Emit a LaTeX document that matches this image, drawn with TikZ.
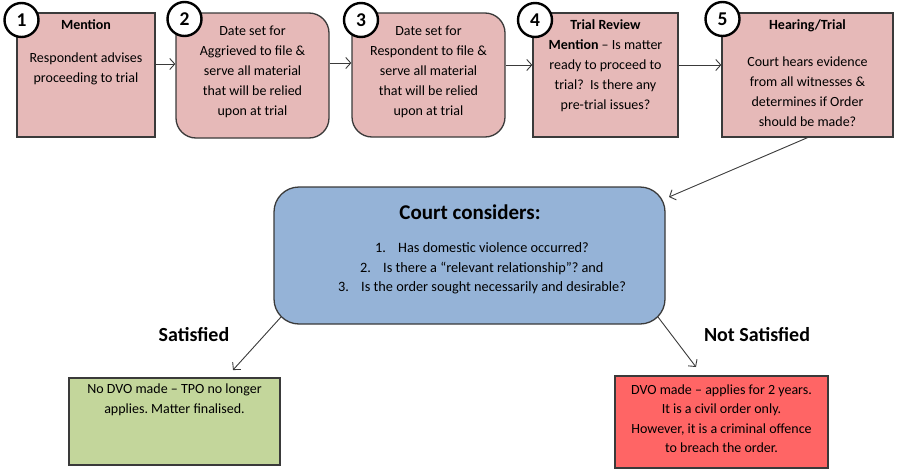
\documentclass[tikz,border=0pt]{standalone}
\usepackage{fontspec}
\setmainfont{Carlito}
\usetikzlibrary{arrows.meta}
\frenchspacing
\definecolor{pinkfill}{HTML}{E6B9B8}
\definecolor{bluefill}{HTML}{95B3D7}
\definecolor{greenfill}{HTML}{C3D69B}
\definecolor{redfill}{HTML}{FF6565}
\definecolor{edge}{HTML}{3A3A3A}
\tikzset{
  box/.style={draw=edge, line width=1.3pt, inner sep=0pt},
  pinkbox/.style={box, fill=pinkfill},
  numcirc/.style={circle, draw=black, line width=2.4pt, fill=white, minimum size=34pt, inner sep=0pt, font=\bfseries\fontsize{19.5}{19.5}\selectfont},
  txt/.style={align=center, inner sep=0pt, font=\fontsize{14}{20}\selectfont},
  conn/.style={draw=edge, line width=0.9pt, -{Straight Barb[length=5pt,width=11pt]}},
  lbl/.style={inner sep=0pt, font=\bfseries\fontsize{20}{20}\selectfont}
}
\begin{document}
\begin{tikzpicture}[x=1pt,y=-1pt]
\useasboundingbox (0,0) rectangle (900,474);
% top boxes
\node[pinkbox, minimum width=138pt, minimum height=124pt] (b1) at (86,75) {};
\node[pinkbox, rounded corners=20pt, minimum width=153pt, minimum height=125pt] (b2) at (252.5,75.5) {};
\node[pinkbox, rounded corners=20pt, minimum width=153pt, minimum height=124pt] (b3) at (428.5,75) {};
\node[pinkbox, minimum width=145pt, minimum height=124pt] (b4) at (605.5,75) {};
\node[pinkbox, minimum width=171pt, minimum height=124pt] (b5) at (807.5,75) {};
% texts
\node[txt] (t1a) at (86,25) {\bfseries Mention};
\node[txt] (t1b) at (86,68.5) {Respondent advises\\proceeding to trial};
\node[txt] (t2) at (252.5,72) {Date set for\\Aggrieved to file \&\\serve all material\\that will be relied\\upon at trial};
\node[txt] (t3) at (428.5,72) {Date set for\\Respondent to file \&\\serve all material\\that will be relied\\upon at trial};
\node[txt] (t4) at (605.5,66) {\textbf{Trial Review}\\\textbf{Mention} -- Is matter\\ready to proceed to\\trial?~~Is there any\\pre-trial issues?};
\node[txt] (t5a) at (807.5,26) {\bfseries Hearing/Trial};
\node[txt] (t5b) at (807.5,92) {Court hears evidence\\from all witnesses \&\\determines if Order\\should be made?};
% number circles
\node[numcirc] (c1) at (21.5,20) {1};
\node[numcirc] (c2) at (184.5,19) {2};
\node[numcirc] (c3) at (361,20) {3};
\node[numcirc] (c4) at (535,20) {4};
\node[numcirc] (c5) at (722.5,19) {5};
% court considers
\node[box, fill=bluefill, rounded corners=25pt, minimum width=391pt, minimum height=137pt] (court) at (469.5,255.5) {};
\node[inner sep=0pt, font=\bfseries\fontsize{21}{21}\selectfont] (ct) at (470,212) {Court considers:};
\node[txt, anchor=west, font=\fontsize{14.3}{20}\selectfont] (i1) at (375,248) {\makebox[23pt][l]{1.}Has domestic violence occurred?};
\node[txt, anchor=west, font=\fontsize{14.3}{20}\selectfont] (i2) at (360,268) {\makebox[23pt][l]{2.}Is there a “relevant relationship”? and};
\node[txt, anchor=west, font=\fontsize{14.3}{20}\selectfont] (i3) at (338,288) {\makebox[23pt][l]{3.}Is the order sought necessarily and desirable?};
% outcome boxes
\node[box, fill=greenfill, minimum width=211pt, minimum height=87pt] (g) at (174.5,421.5) {};
\node[txt] (gt) at (174.5,400) {No DVO made -- TPO no longer\\applies. Matter finalised.};
\node[box, fill=redfill, minimum width=213pt, minimum height=92pt] (r) at (721.5,422) {};
\node[txt, font=\fontsize{14}{19.5}\selectfont] (rt) at (721.5,418.5) {DVO made -- applies for 2 years.\\It is a civil order only.\\However, it is a criminal offence\\to breach the order.};
% labels
\node[lbl] (ls) at (194,335) {Satisfied};
\node[lbl] (lns) at (757,335) {Not Satisfied};
% coordinates
\coordinate (ctip) at (669,197);
\coordinate (csw) at (281,317);
\coordinate (cse) at (658,317);
\coordinate (gtip) at (233,370);
\coordinate (rtip) at (696,367);
% connectors
\draw[conn] (b1.east |- 0,64) -- (b2.west |- 0,64);
\draw[conn] (b2.east |- 0,63) -- (b3.west |- 0,63);
\draw[conn] (b3.east |- 0,65) -- (b4.west |- 0,65);
\draw[conn] (b4.east |- 0,65) -- (b5.west |- 0,65);
\draw[conn] (b5.south) -- (ctip);
\draw[conn] (csw) -- (gtip);
\draw[conn] (cse) -- (rtip);
\end{tikzpicture}
\end{document}
